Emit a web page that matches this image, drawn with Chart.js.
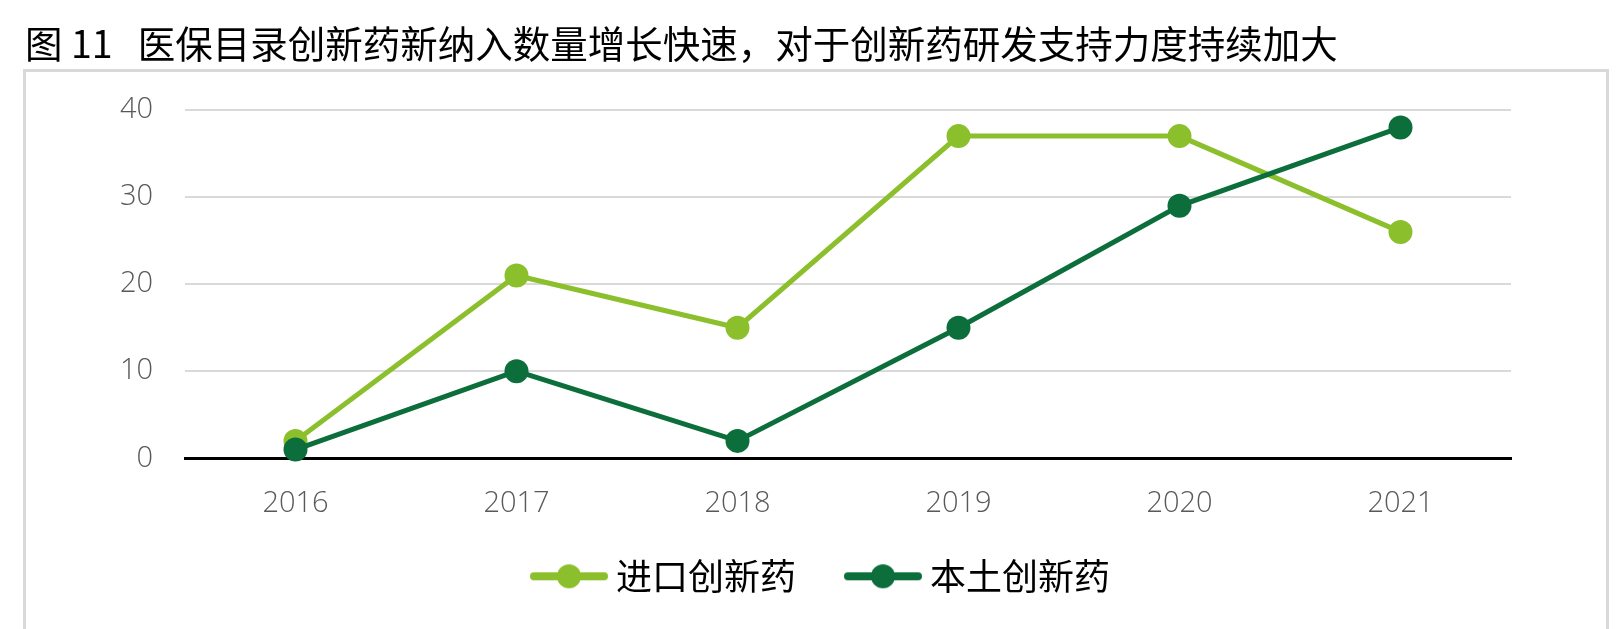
<!DOCTYPE html>
<html><head><meta charset="utf-8">
<script src="https://cdn.jsdelivr.net/npm/chart.js@4.4.1/dist/chart.umd.min.js"></script>
<style>html,body{margin:0;padding:0;background:#fff;overflow:hidden}#wrap{width:1620px;height:629px;position:relative}</style>
</head><body><div id="wrap"><canvas id="c" width="1620" height="629"></canvas></div>
<script>
const categories = ['2016', '2017', '2018', '2019', '2020', '2021'];
const importedDrugs = [2, 21, 15, 37, 37, 26];
const domesticDrugs = [1, 10, 2, 15, 29, 38];
const seriesNames = ['进口创新药', '本土创新药'];
const yTicks = [0, 10, 20, 30, 40];
const titleText = '图 11   医保目录创新药新纳入数量增长快速，对于创新药研发支持力度持续加大';

const LIGHT = '#8CBF2C';
const DARK = '#0B6E3B';
const CJK = '"Noto Sans CJK SC", "Noto Sans", sans-serif';
const NUM = '"Open Sans", "Noto Sans", sans-serif';

function legendImage(color) {
  const c = document.createElement('canvas');
  c.width = 98; c.height = 26;
  const g = c.getContext('2d');
  g.strokeStyle = color; g.lineWidth = 8; g.lineCap = 'round';
  g.beginPath(); g.moveTo(24, 13); g.lineTo(94, 13); g.stroke();
  g.fillStyle = color; g.beginPath(); g.arc(59, 13, 12, 0, Math.PI * 2); g.fill();
  return c;
}
const legendImgs = [legendImage(LIGHT), legendImage(DARK)];

const framePlugin = {
  id: 'frame',
  beforeDraw(chart) {
    const ctx = chart.ctx;
    ctx.save();
    ctx.fillStyle = '#fff';
    ctx.fillRect(0, 0, chart.width, chart.height);
    ctx.strokeStyle = '#D9D9D9';
    ctx.lineWidth = 3;
    ctx.strokeRect(24.5, 70.5, 1583, 700);
    ctx.restore();
  },
  afterLayout(chart) {
    if (chart.legend) { chart.legend.left -= 33; chart.legend.right -= 33; }
  }
};

new Chart(document.getElementById('c'), {
  type: 'line',
  data: {
    labels: categories,
    datasets: [
      { label: seriesNames[0], data: importedDrugs, borderColor: LIGHT, backgroundColor: LIGHT,
        pointBackgroundColor: LIGHT, borderWidth: 5, pointRadius: 12, pointBorderWidth: 0, tension: 0, order: 1, clip: false },
      { label: seriesNames[1], data: domesticDrugs, borderColor: DARK, backgroundColor: DARK,
        pointBackgroundColor: DARK, borderWidth: 5, pointRadius: 12, pointBorderWidth: 0, tension: 0, order: 0, clip: false }
    ]
  },
  options: {
    responsive: false,
    animation: false,
    events: [],
    layout: { padding: { left: 25, right: 109, top: 0, bottom: 24.7 } },
    plugins: {
      title: {
        display: true, text: titleText, align: 'start', color: '#000',
        font: { family: CJK, size: 37.5, weight: 'normal', lineHeight: 1.2 },
        padding: { top: 21, bottom: 44 }
      },
      legend: {
        position: 'bottom', fullSize: false,
        labels: {
          usePointStyle: true, pointStyleWidth: 78, padding: 38, color: '#000',
          font: { family: CJK, size: 36 },
          generateLabels(chart) {
            return chart.data.datasets.map((d, i) => ({
              text: d.label, pointStyle: legendImgs[i], fillStyle: d.borderColor,
              strokeStyle: d.borderColor, lineWidth: 0, hidden: false, datasetIndex: i, fontColor: '#000'
            }));
          }
        }
      },
      tooltip: { enabled: false }
    },
    scales: {
      x: {
        offset: true,
        grid: { display: false, drawTicks: false, offset: true },
        border: { display: true, color: '#000', width: 3 },
        ticks: { color: '#595959', font: { family: NUM, size: 29, weight: 300 }, padding: 28 },
        afterFit(s) { s.height = 62; }
      },
      y: {
        min: 0, max: 40,
        afterBuildTicks(s) { s.ticks = yTicks.map(v => ({ value: v })); },
        grid: { drawTicks: false, lineWidth: 2, color: c => (c.tick && c.tick.value === 0) ? 'rgba(0,0,0,0)' : '#D9D9D9' },
        border: { display: false },
        ticks: { color: '#595959', font: { family: NUM, size: 29, weight: 300 }, padding: 32 },
        afterFit(s) { s.width = 160; }
      }
    }
  },
  plugins: [framePlugin]
});
</script>
</body></html>
